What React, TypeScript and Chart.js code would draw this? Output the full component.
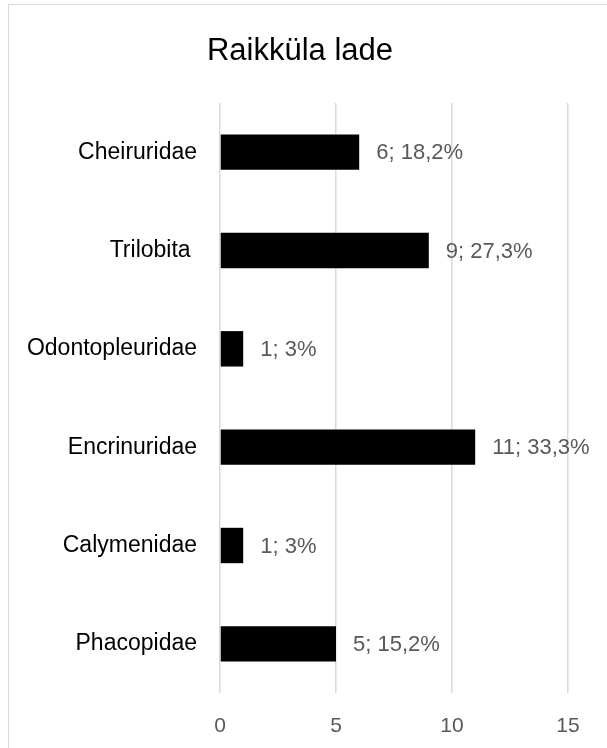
import React, { useEffect, useRef } from "react";
import { Chart, registerables } from "chart.js";

Chart.register(...registerables);

const TITLE = "Raikküla lade";
const categories = ["Cheiruridae", "Trilobita ", "Odontopleuridae", "Encrinuridae", "Calymenidae", "Phacopidae"];
const counts = [6, 9, 1, 11, 1, 5];
const labels = ["6; 18,2%", "9; 27,3%", "1; 3%", "11; 33,3%", "1; 3%", "5; 15,2%"];
const xTicks = [0, 5, 10, 15];

const FONT = "'Liberation Sans', Arial, sans-serif";

const dataLabelPlugin = {
  id: "dataLabels",
  afterDatasetsDraw(chart: any) {
    const ctx = chart.ctx;
    const meta = chart.getDatasetMeta(0);
    ctx.save();
    ctx.font = `22px ${FONT}`;
    ctx.fillStyle = "#595959";
    ctx.textAlign = "left";
    ctx.textBaseline = "middle";
    meta.data.forEach((bar: any, i: number) => {
      ctx.fillText(labels[i], bar.x + 17, bar.y + 1);
    });
    ctx.restore();
  },
};

const titlePlugin = {
  id: "customTitle",
  afterDraw(chart: any) {
    const ctx = chart.ctx;
    ctx.save();
    ctx.font = `31px ${FONT}`;
    ctx.fillStyle = "#000000";
    ctx.textAlign = "center";
    ctx.textBaseline = "alphabetic";
    ctx.fillText(TITLE, 300, 60);
    ctx.restore();
  },
};

export default function App() {
  const ref = useRef<HTMLCanvasElement>(null);
  useEffect(() => {
    if (!ref.current) return;
    const chart = new Chart(ref.current, {
      type: "bar",
      data: {
        labels: categories,
        datasets: [
          {
            data: counts,
            backgroundColor: "#000000",
            borderWidth: 0,
            barPercentage: 0.36,
            categoryPercentage: 1,
          },
        ],
      },
      options: {
        indexAxis: "y",
        animation: false,
        responsive: false,
        maintainAspectRatio: false,
        layout: { padding: { top: 103, left: 0, right: 39, bottom: 10 } },
        plugins: {
          legend: { display: false },
          tooltip: { enabled: false },
          title: { display: false },
        },
        scales: {
          x: {
            min: 0,
            max: 15,
            afterBuildTicks(scale: any) {
              scale.ticks = xTicks.map((v) => ({ value: v }));
            },
            afterFit(scale: any) {
              scale.height = 45;
            },
            grid: { color: "#d9d9d9", lineWidth: 1.5, drawTicks: false },
            border: { display: false },
            ticks: {
              color: "#595959",
              font: { family: FONT, size: 21 },
              padding: 21,
            },
          },
          y: {
            grid: { display: false, drawTicks: false },
            border: { display: false },
            afterFit(scale: any) {
              scale.width = 220;
            },
            ticks: {
              color: "#000000",
              font: { family: FONT, size: 23 },
              padding: 23,
            },
          },
        },
      },
      plugins: [dataLabelPlugin, titlePlugin],
    });
    return () => chart.destroy();
  }, []);

  return (
    <div style={{ position: "fixed", left: 0, top: 0, width: 607, height: 748, overflow: "hidden", background: "#fff" }}>
      <canvas ref={ref} width={607} height={748} style={{ position: "absolute", left: 0, top: 0, width: 607, height: 748 }} />
      <div
        style={{
          position: "absolute",
          left: 8,
          top: 4,
          width: 700,
          height: 800,
          borderLeft: "1.5px solid #d9d9d9",
          borderTop: "1.5px solid #d9d9d9",
          pointerEvents: "none",
        }}
      />
    </div>
  );
}
